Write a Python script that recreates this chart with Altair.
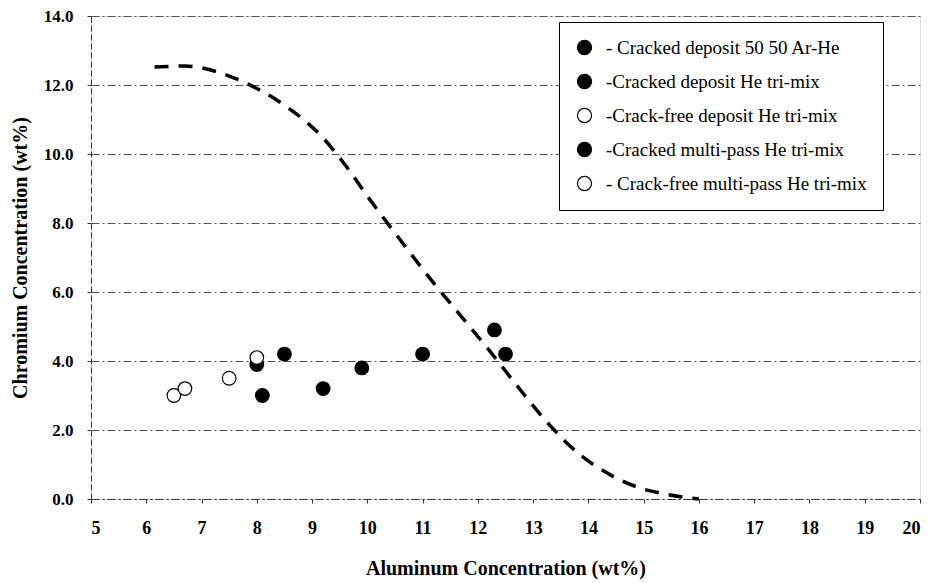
import altair as alt
import pandas as pd

# Measured weld deposits: aluminum vs chromium (wt%)
al_values = [9.2, 9.9, 11.0, 12.3, 12.5, 8.1, 8.5, 6.5, 6.7, 7.5, 8.0, 8.0]
cr_values = [3.2, 3.8, 4.2, 4.9, 4.2, 3.0, 4.2, 3.0, 3.2, 3.5, 3.9, 4.1]
series = [
    "- Cracked deposit 50 50 Ar-He",
    "- Cracked deposit 50 50 Ar-He",
    "- Cracked deposit 50 50 Ar-He",
    "- Cracked deposit 50 50 Ar-He",
    "- Cracked deposit 50 50 Ar-He",
    "-Cracked deposit He tri-mix",
    "-Cracked deposit He tri-mix",
    "-Crack-free deposit He tri-mix",
    "-Crack-free deposit He tri-mix",
    "-Crack-free deposit He tri-mix",
    "-Cracked multi-pass He tri-mix",
    "- Crack-free multi-pass He tri-mix",
]
legend_order = [
    "- Cracked deposit 50 50 Ar-He",
    "-Cracked deposit He tri-mix",
    "-Crack-free deposit He tri-mix",
    "-Cracked multi-pass He tri-mix",
    "- Crack-free multi-pass He tri-mix",
]
legend_fills = ["black", "black", "white", "black", "white"]

# Cracking boundary curve
curve_al = [6.15, 6.7, 7.5, 8.0, 8.6, 9.15, 9.6, 10.05, 10.6, 11.13, 11.68,
            12.2, 12.77, 13.3, 13.85, 14.4, 14.93, 15.4, 16.0]
curve_cr = [12.52, 12.55, 12.26, 11.9, 11.3, 10.55, 9.68, 8.67, 7.5, 6.4, 5.33,
            4.32, 3.16, 2.14, 1.28, 0.7, 0.32, 0.14, 0.0]

points = pd.DataFrame({"al": al_values, "cr": cr_values, "series": series})
curve = pd.DataFrame({"al": curve_al, "cr": curve_cr})

FONT = "Liberation Serif"

x_scale = alt.Scale(domain=[5, 20], nice=False, zero=False)
y_scale = alt.Scale(domain=[0, 14], nice=False)

x_axis = alt.Axis(
    title="Aluminum Concentration (wt%)",
    values=list(range(5, 21)),
    format="d",
    grid=False,
    labelFont=FONT, labelFontSize=18, labelFontWeight="bold", labelColor="black",
    labelPadding=16,
    titleFont=FONT, titleFontSize=20, titleFontWeight="bold", titleColor="black",
    titlePadding=21,
    domainColor="#333", domainDash=[8, 3, 2, 3], domainWidth=1,
    tickColor="#333", tickSize=4,
)
y_axis = alt.Axis(
    title="Chromium Concentration (wt%)",
    values=[0, 2, 4, 6, 8, 10, 12, 14],
    format=".1f",
    grid=True, gridColor="#555", gridDash=[8, 3, 2, 3], gridWidth=1,
    labelFont=FONT, labelFontSize=17, labelFontWeight="bold", labelColor="black",
    labelPadding=14,
    titleFont=FONT, titleFontSize=20, titleFontWeight="bold", titleColor="black",
    titlePadding=13,
    domainColor="#333", domainDash=[6, 3], domainWidth=1,
    tickColor="#333", tickSize=4,
)

boundary = alt.Chart(curve).mark_line(
    color="black", strokeWidth=3.5, strokeDash=[14, 10], interpolate="monotone"
).encode(
    x=alt.X("al:Q", scale=x_scale, axis=x_axis),
    y=alt.Y("cr:Q", scale=y_scale, axis=y_axis),
)

dots = alt.Chart(points).mark_point(
    filled=True, stroke="black", strokeWidth=1.2, size=185, opacity=1, shape="circle"
).encode(
    x=alt.X("al:Q", scale=x_scale),
    y=alt.Y("cr:Q", scale=y_scale),
    fill=alt.Fill(
        "series:N",
        scale=alt.Scale(domain=legend_order, range=legend_fills),
        legend=alt.Legend(
            title=None,
            orient="none", legendX=468, legendY=6,
            labelFont=FONT, labelFontSize=19, labelColor="black", labelLimit=400,
            symbolType="circle", symbolSize=200, symbolStrokeColor="black",
            symbolStrokeWidth=1.2, symbolOpacity=1,
            rowPadding=14, padding=16, labelOffset=12,
            strokeColor="black", fillColor="white",
        ),
    ),
)

chart = alt.layer(boundary, dots).properties(
    width=829, height=483,
    autosize=alt.AutoSizeParams(type="none"),
    padding={"left": 91, "top": 16, "right": 14, "bottom": 84},
).configure_view(stroke=None).configure(background="white")

chart.save("out.html", embed_options={"renderer": "svg", "actions": False})
